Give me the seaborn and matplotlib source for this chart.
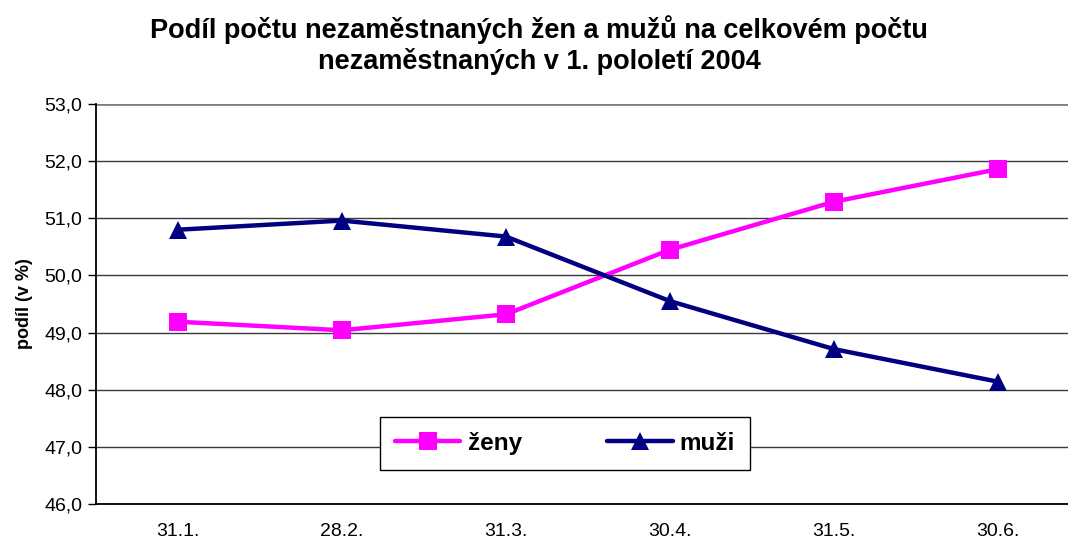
import matplotlib
matplotlib.use("Agg")
import matplotlib.pyplot as plt
import seaborn as sns
import pandas as pd
from matplotlib.ticker import FixedLocator, FuncFormatter

dates = ["31.1.", "28.2.", "31.3.", "30.4.", "31.5.", "30.6."]
zeny = [49.19, 49.04, 49.32, 50.45, 51.29, 51.86]
muzi = [50.80, 50.96, 50.68, 49.55, 48.71, 48.14]
series_names = ["ženy", "muži"]
title = "Podíl počtu nezaměstnaných žen a mužů na celkovém počtu\nnezaměstnaných v 1. pololetí 2004"
ylabel = "podíl (v %)"
yticks = [46, 47, 48, 49, 50, 51, 52, 53]

df = pd.DataFrame({
    "datum": dates * 2,
    "hodnota": zeny + muzi,
    "pohlaví": [series_names[0]] * len(dates) + [series_names[1]] * len(dates),
})

sns.set_style("white")
plt.rcParams["font.family"] = ["Liberation Sans", "DejaVu Sans"]
plt.rcParams["text.color"] = "black"
plt.rcParams["axes.labelcolor"] = "black"
plt.rcParams["xtick.color"] = "black"
plt.rcParams["ytick.color"] = "black"

fig = plt.figure(figsize=(10.68, 5.42), dpi=100)
ax = fig.add_axes([96 / 1068, 1 - 504 / 542, 984 / 1068, 400 / 542])

sns.lineplot(
    data=df, x="datum", y="hodnota", hue="pohlaví", style="pohlaví",
    palette={"ženy": "#FF00FF", "muži": "#000080"},
    markers={"ženy": "s", "muži": "^"}, dashes=False,
    linewidth=3.2, markersize=13, markeredgewidth=0, ax=ax, legend=True,
)

ax.set_xlim(-0.5, len(dates) - 0.5)
ax.set_ylim(46, 53)
ax.yaxis.set_major_locator(FixedLocator(yticks))
ax.yaxis.set_major_formatter(FuncFormatter(lambda v, p: f"{v:.1f}".replace(".", ",")))
ax.grid(axis="y", color="#3a3a3a", linewidth=1.0)
ax.set_axisbelow(True)
gl = ax.get_ygridlines()
gl[-1].set_color("#808080")
gl[-1].set_linewidth(2.0)

ax.set_xticks(range(len(dates)))
ax.set_xticklabels(dates)
ax.set_xticks([i - 0.5 for i in range(len(dates) + 1)], minor=True)
ax.tick_params(axis="x", which="major", length=0, pad=14, labelsize=14)
ax.tick_params(axis="x", which="minor", length=6, width=1, color="black", direction="out")
ax.tick_params(axis="y", length=6, width=1, color="black", direction="out", labelsize=14, pad=4, left=True)

for s in ["top", "right"]:
    ax.spines[s].set_visible(False)
for s in ["left", "bottom"]:
    ax.spines[s].set_color("black")
    ax.spines[s].set_linewidth(1.3)

ax.set_xlabel("")
ax.set_ylabel(ylabel, fontsize=13, fontweight="bold", labelpad=8)

fig.text(0.505, 0.972, title, ha="center", va="top", fontsize=19.5, fontweight="bold", linespacing=1.2)

handles, labels = ax.get_legend_handles_labels()
leg = ax.legend(
    handles, labels, ncol=2, loc="center",
    bbox_to_anchor=(565 / 1068, 1 - 443.5 / 542), bbox_transform=fig.transFigure,
    frameon=True, fancybox=False, edgecolor="black", framealpha=1,
    prop={"size": 17.5, "weight": "bold"}, handlelength=2.7, handletextpad=0.3,
    columnspacing=3.5, borderpad=0.6,
)
leg.get_frame().set_linewidth(1.0)

fig.savefig("out.png", dpi=100)
